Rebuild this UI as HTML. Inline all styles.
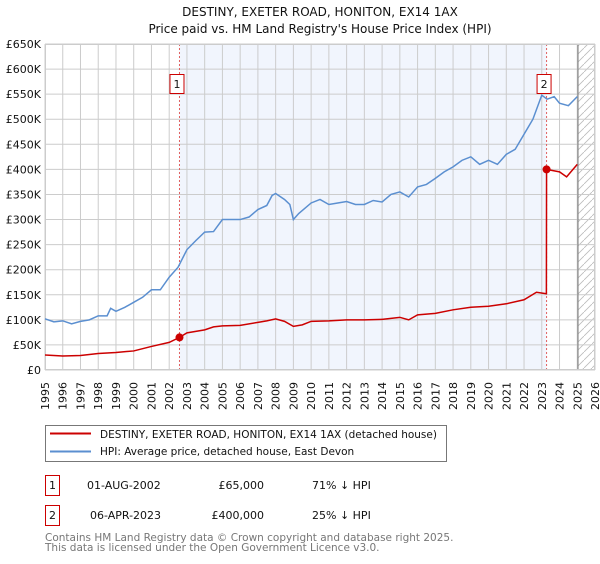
<!DOCTYPE html>
<html><head><meta charset="utf-8"><style>
body{margin:0;background:#fff;font-family:"DejaVu Sans","Liberation Sans",sans-serif;}
svg text{font-family:"DejaVu Sans","Liberation Sans",sans-serif;}
</style></head><body>
<svg id="chart" width="600" height="560" viewBox="0 0 600 560">
<text x="320" y="16" text-anchor="middle" font-size="12" fill="#111">DESTINY, EXETER ROAD, HONITON, EX14 1AX</text>
<text x="320" y="33" text-anchor="middle" font-size="12" fill="#111">Price paid vs. HM Land Registry's House Price Index (HPI)</text>
<g id="plot"></g>
<g>
<rect x="45.5" y="425.5" width="401" height="36" fill="#fff" stroke="#777"/>
<line x1="50" y1="433.5" x2="91" y2="433.5" stroke="#cc0000" stroke-width="2"/>
<text x="100" y="438" font-size="10.5" fill="#111">DESTINY, EXETER ROAD, HONITON, EX14 1AX (detached house)</text>
<line x1="50" y1="451.5" x2="91" y2="451.5" stroke="#5b8fd0" stroke-width="2"/>
<text x="100" y="455" font-size="10.5" fill="#111">HPI: Average price, detached house, East Devon</text>
</g>
<g font-size="11" fill="#111">
<rect x="45.5" y="475.5" width="14" height="20" fill="#fff" stroke="#c00"/>
<text x="52.5" y="489" text-anchor="middle">1</text>
<text x="87" y="489">01-AUG-2002</text>
<text x="264" y="489" text-anchor="end">£65,000</text>
<text x="312" y="489">71% ↓ HPI</text>
<rect x="45.5" y="505.5" width="14" height="20" fill="#fff" stroke="#c00"/>
<text x="52.5" y="519" text-anchor="middle">2</text>
<text x="90" y="519">06-APR-2023</text>
<text x="264" y="519" text-anchor="end">£400,000</text>
<text x="312" y="519">25% ↓ HPI</text>
</g>
<text x="45" y="541" font-size="10.5" fill="#777">Contains HM Land Registry data © Crown copyright and database right 2025.</text>
<text x="45" y="551" font-size="10.5" fill="#777">This data is licensed under the Open Government Licence v3.0.</text>
</svg>
<script>
const hpiYears=[1995,1995.5,1996,1996.5,1997,1997.5,1998,1998.5,1998.7,1999,1999.5,2000,2000.5,2001,2001.5,2002,2002.5,2003,2003.5,2004,2004.5,2005,2005.5,2006,2006.5,2007,2007.5,2007.8,2008,2008.5,2008.8,2009,2009.3,2010,2010.5,2011,2011.5,2012,2012.5,2013,2013.5,2014,2014.5,2015,2015.5,2016,2016.5,2017,2017.5,2018,2018.5,2019,2019.5,2020,2020.5,2021,2021.5,2022,2022.5,2023,2023.3,2023.7,2024,2024.5,2025];
const hpiValues=[102,96,98,92,97,100,108,108,123,117,125,135,145,160,160,185,205,240,258,275,276,300,300,300,305,320,328,348,352,340,330,300,312,333,340,330,333,336,330,330,338,335,350,355,345,365,370,382,395,405,418,425,410,418,410,430,440,470,500,548,540,545,532,527,545];
const ppYears=[1995,1996,1997,1998,1999,2000,2001,2002,2002.58,2003,2004,2004.5,2005,2006,2007,2007.5,2008,2008.5,2009,2009.5,2010,2011,2012,2013,2014,2015,2015.5,2016,2017,2018,2019,2020,2021,2022,2022.7,2023.26,2023.27,2024,2024.4,2025];
const ppValues=[30,28,29,33,35,38,47,55,65,74,80,86,88,89,95,98,102,97,87,90,97,98,100,100,101,105,100,110,113,120,125,127,132,140,155,152,400,395,385,410];
const saleYears=[2002.58,2023.27];
const saleValues=[65,400];
const saleLabels=["1","2"];
const yTicks=[0,50,100,150,200,250,300,350,400,450,500,550,600,650];
const yTickLabels=["£0","£50K","£100K","£150K","£200K","£250K","£300K","£350K","£400K","£450K","£500K","£550K","£600K","£650K"];
const xTicks=[1995,1996,1997,1998,1999,2000,2001,2002,2003,2004,2005,2006,2007,2008,2009,2010,2011,2012,2013,2014,2015,2016,2017,2018,2019,2020,2021,2022,2023,2024,2025,2026];

const X0=45,X1=595,Y0=370,Y1=44;
const xs=y=>X0+(y-1995)/(2026-1995)*(X1-X0);
const ys=v=>Y0-v/650*(Y0-Y1);
const NS="http://www.w3.org/2000/svg";
const g=document.getElementById('plot');
function mk(t,a,p){const e=document.createElementNS(NS,t);for(const k in a)e.setAttribute(k,a[k]);(p||g).appendChild(e);return e;}
const sh=mk('rect',{x:xs(saleYears[0]),y:Y1,width:xs(saleYears[1])-xs(saleYears[0]),height:Y0-Y1,fill:'#eef3fc',opacity:0.8});


const defs=mk('defs',{});
const pat=mk('pattern',{id:'hatch',width:8,height:8,patternUnits:'userSpaceOnUse'},defs);
mk('path',{d:'M0,8 L8,0',stroke:'#bbb','stroke-width':0.8},pat);
const hx=xs(2025.04);
const ht=mk('rect',{x:hx,y:Y1,width:X1-hx,height:Y0-Y1,fill:'url(#hatch)'});


yTicks.forEach((v,i)=>{
  mk('line',{x1:X0,x2:X1,y1:ys(v),y2:ys(v),stroke:'#ccc','stroke-width':1});
  const t=mk('text',{x:X0-4,y:ys(v)+4,'text-anchor':'end','font-size':11,fill:'#111'});
  t.textContent=yTickLabels[i];
  
  
});
xTicks.forEach(yr=>{
  mk('line',{x1:xs(yr),x2:xs(yr),y1:Y1,y2:Y0,stroke:'#ccc','stroke-width':1});
  const t=mk('text',{x:0,y:0,'text-anchor':'end','font-size':11,fill:'#111',transform:`translate(${xs(yr)+4},382) rotate(-90)`});
  t.textContent=yr;
  
  
});
mk('line',{x1:hx,x2:hx,y1:Y1,y2:Y0,stroke:'#888','stroke-width':1.2});
saleYears.forEach((yr,i)=>{
  const l=mk('line',{x1:xs(yr),x2:xs(yr),y1:Y1,y2:Y0,stroke:'#e06060','stroke-width':1,'stroke-dasharray':'2,2'});
  
  
  const bx=mk('rect',{x:xs(yr)-9.5,y:74.5,width:14,height:19,fill:'#fff',stroke:'#c00'});
  
  
  const t=mk('text',{x:xs(yr)-2.5,y:88,'text-anchor':'middle','font-size':11,fill:'#111'});
  t.textContent=saleLabels[i];
});
mk('rect',{x:X0+0.5,y:Y1+0.5,width:X1-X0-1,height:Y0-Y1-1,fill:'none',stroke:'#ccc'});
const hp=mk('polyline',{points:hpiYears.map((y,i)=>xs(y)+','+ys(hpiValues[i])).join(' '),fill:'none',stroke:'#5b8fd0','stroke-width':1.5});


const pp=mk('polyline',{points:ppYears.map((y,i)=>xs(y)+','+ys(ppValues[i])).join(' '),fill:'none',stroke:'#cc0000','stroke-width':1.5});


saleYears.forEach((yr,i)=>{
  const c=mk('circle',{cx:xs(yr),cy:ys(saleValues[i]),r:4,fill:'#cc0000'});
  
  
});
</script>
</body></html>
